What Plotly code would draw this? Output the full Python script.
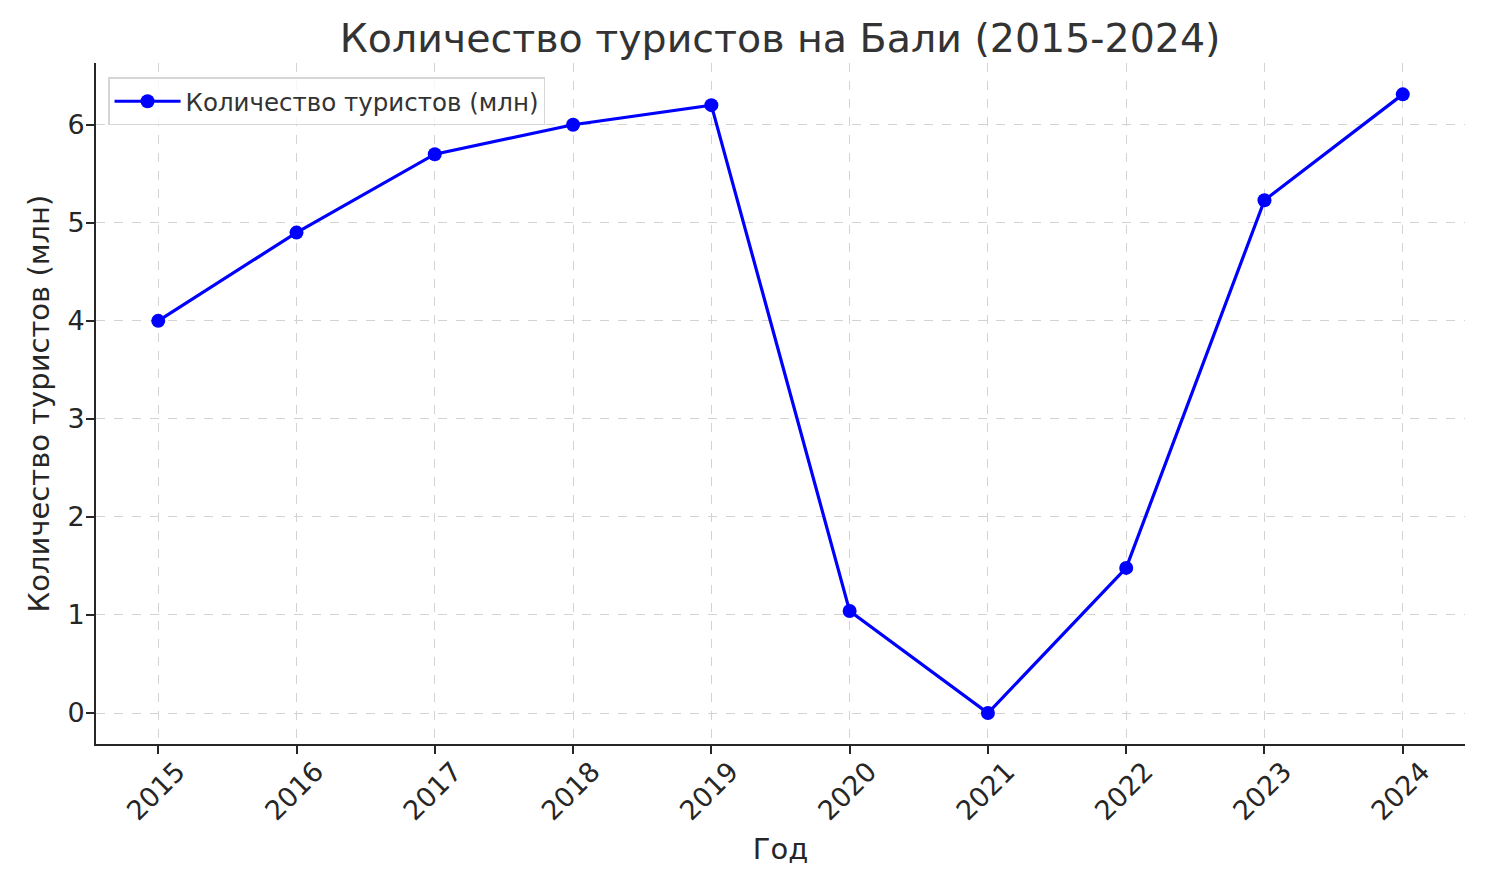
import plotly.graph_objects as go

# --- данные ---
years = [2015, 2016, 2017, 2018, 2019, 2020, 2021, 2022, 2023, 2024]
tourists = [4.0, 4.9, 5.7, 6.0, 6.2, 1.04, 0.0, 1.48, 5.23, 6.31]
y_ticks = [0, 1, 2, 3, 4, 5, 6]

fig = go.Figure(go.Scatter(
    x=years,
    y=tourists,
    mode='lines+markers',
    name='Количество туристов (млн)',
    line=dict(color='#0000ff', width=3.2),
    marker=dict(color='#0000ff', size=14),
))

axis_font = dict(family='DejaVu Sans', size=27, color='#262626')

fig.update_layout(
    width=1508, height=880,
    paper_bgcolor='white', plot_bgcolor='white',
    margin=dict(l=88, r=51, t=55, b=144),
    font=dict(family='DejaVu Sans', color='#262626'),
    title=dict(text='Количество туристов на Бали (2015-2024)',
               x=0.512, xanchor='center', y=0.966, yanchor='middle',
               font=dict(size=39.5, color='#333333')),
    showlegend=True,
    legend=dict(x=0.0088, y=0.979, xanchor='left', yanchor='top',
                bgcolor='rgba(255,255,255,0.8)', bordercolor='#d6d6d6', borderwidth=1.5,
                itemwidth=66,
                font=dict(size=24.5, color='#333333')),
)

fig.update_xaxes(
    range=[2014.55, 2024.45],
    tickvals=years, ticktext=[str(y) for y in years],
    tickangle=-45, tickfont=axis_font,
    ticklabelshift=19, ticklabelstandoff=-9,
    ticks='outside', ticklen=8, tickwidth=1.5, tickcolor='#262626',
    showline=True, linecolor='#262626', linewidth=2,
    showgrid=True, gridcolor='#d3d3d3', griddash='dash', gridwidth=1,
    zeroline=False,
    title=dict(text='Год', font=dict(size=29, color='#262626'), standoff=13),
)
fig.update_yaxes(
    range=[-0.316, 6.63],
    tickvals=y_ticks,
    tickfont=axis_font,
    ticklabelstandoff=-4,
    ticks='outside', ticklen=8, tickwidth=1.5, tickcolor='#262626',
    showline=True, linecolor='#262626', linewidth=2,
    showgrid=True, gridcolor='#d3d3d3', griddash='dash', gridwidth=1,
    zeroline=False,
    title=dict(text='Количество туристов (млн)', font=dict(size=29, color='#262626'), standoff=9),
)

fig.write_html("out.html")
